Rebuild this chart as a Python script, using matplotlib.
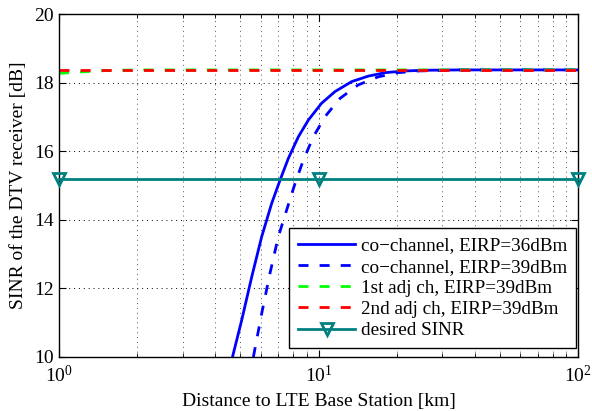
import matplotlib
matplotlib.use('Agg')
import matplotlib.pyplot as plt
from matplotlib.ticker import LogLocator, NullFormatter

plt.rcParams['font.family'] = ['Liberation Serif', 'DejaVu Serif']
plt.rcParams['mathtext.fontset'] = 'custom'
plt.rcParams['mathtext.rm'] = 'Liberation Serif'
plt.rcParams['mathtext.it'] = 'Liberation Serif:italic'

# distance [km] and SINR [dB]
dist_co36 = [4.66, 5.06, 5.53, 6.04, 6.60, 7.11, 7.65, 8.36, 9.14, 10.28,
             11.58, 13.43, 15.56, 18.04, 21.5, 25.7, 35, 100]
sinr_co36 = [10.0, 11.08, 12.34, 13.51, 14.48, 15.16, 15.79, 16.42, 16.91, 17.40,
             17.74, 18.03, 18.19, 18.29, 18.34, 18.36, 18.37, 18.37]

dist_co39 = [5.61, 6.04, 6.50, 7.00, 7.54, 8.12, 8.74, 9.55, 10.6, 12.1,
             14.2, 17.0, 20.3, 24.3, 35, 100]
sinr_co39 = [10.0, 11.27, 12.44, 13.51, 14.29, 15.06, 15.74, 16.42, 17.01, 17.54,
             17.93, 18.17, 18.29, 18.34, 18.37, 18.37]

dist_adj1 = [1, 1.2, 1.5, 2, 100]
sinr_adj1 = [18.27, 18.31, 18.35, 18.37, 18.37]

dist_adj2 = [1, 100]
sinr_adj2 = [18.37, 18.37]

dist_target = [1, 10, 100]
sinr_target = [15.2, 15.2, 15.2]

labels = ['co\u2212channel, EIRP=36dBm', 'co\u2212channel, EIRP=39dBm',
          '1st adj ch, EIRP=39dBm', '2nd adj ch, EIRP=39dBm', 'desired SINR']

fig = plt.figure(figsize=(5.92, 4.11), dpi=100)
ax = fig.add_axes([0.0997, 0.1314, 0.8767, 0.8345])

dash = (3.6, 4.0)
ax.plot(dist_co36, sinr_co36, color='#0000ff', lw=2, label=labels[0])
ax.plot(dist_co39, sinr_co39, color='#0000ff', lw=2, ls=(0, dash), label=labels[1])
ax.plot(dist_adj1, sinr_adj1, color='#00ff00', lw=2, ls=(0, dash), label=labels[2])
ax.plot(dist_adj2, sinr_adj2, color='#ff0000', lw=2, ls=(0, dash), label=labels[3])
ax.plot(dist_target, sinr_target, color='#008080', lw=2, marker='v', ms=9,
        mfc='none', mew=2, label=labels[4], clip_on=False, zorder=5)

ax.set_xscale('log')
ax.set_xlim(1, 100)
ax.set_ylim(10, 20)
ax.set_yticks([10, 12, 14, 16, 18, 20])
ax.xaxis.set_minor_locator(LogLocator(base=10, subs=range(2, 10)))
ax.xaxis.set_minor_formatter(NullFormatter())

ax.grid(True, which='major', ls=(0, (1, 4)), color='black', lw=0.7)
ax.grid(True, which='minor', axis='x', ls=(0, (1, 4)), color='#555555', lw=0.7)

ax.tick_params(which='both', direction='in', top=True, right=True, labelsize=14)
ax.tick_params(which='major', length=5)
ax.tick_params(which='minor', length=3)
ax.tick_params(axis='x', pad=6)
for s in ax.spines.values():
    s.set_linewidth(1.0)

ax.set_xlabel('Distance to LTE Base Station [km]', fontsize=14, labelpad=5)
ax.set_ylabel('SINR of the DTV receiver [dB]', fontsize=14, labelpad=5)

leg = ax.legend(loc='lower right', bbox_to_anchor=(0.996, 0.026), borderaxespad=0,
                fontsize=13.8, fancybox=False, framealpha=1, edgecolor='black',
                handlelength=3.0, handletextpad=0.3, labelspacing=0.2, borderpad=0.45)
leg.get_frame().set_linewidth(1.0)

fig.savefig('out.png', dpi=100)
